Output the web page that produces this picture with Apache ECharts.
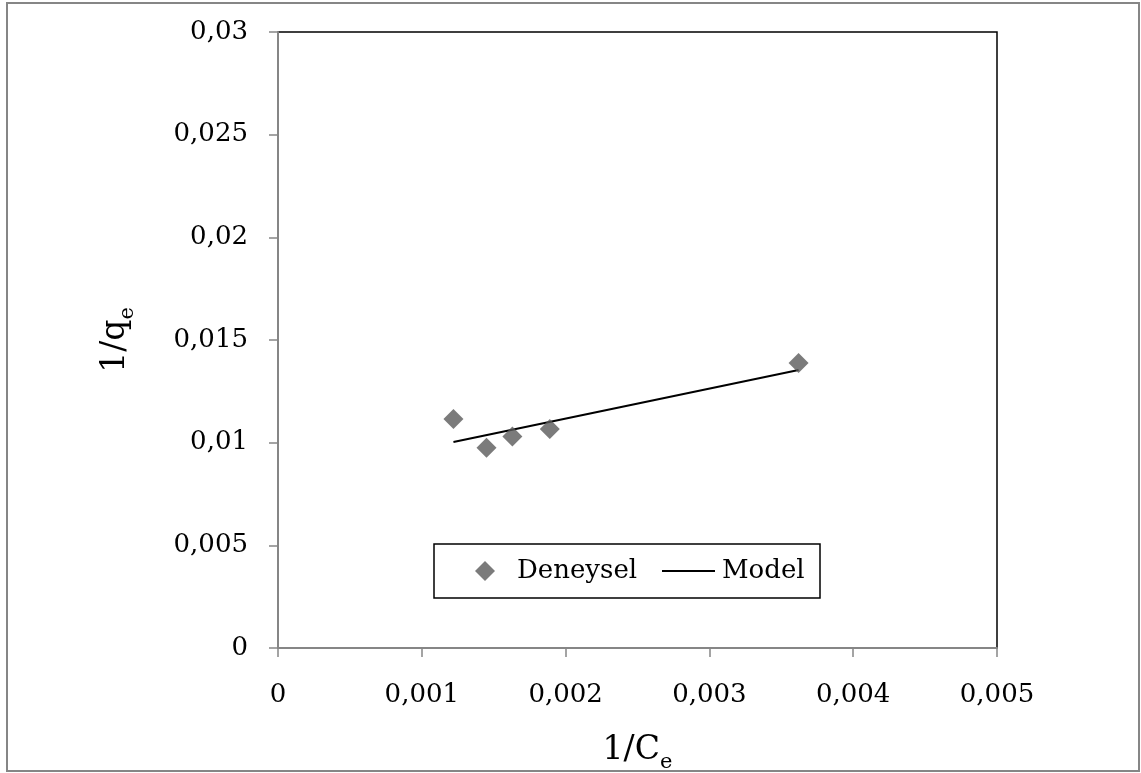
<!DOCTYPE html>
<html>
<head>
<meta charset="utf-8">
<script src="https://cdn.jsdelivr.net/npm/echarts@6/dist/echarts.min.js"></script>
<style>
html, body { margin: 0; padding: 0; background: #fff; }
#chart { width: 1141px; height: 773px; }
</style>
</head>
<body>
<div id="chart"></div>
<script>
// measured points (1/Ce, 1/qe)
var xDeneysel = [0.00122, 0.00145, 0.00163, 0.00189, 0.00362];
var yDeneysel = [0.01115, 0.00975, 0.0103, 0.01067, 0.01388];
// fitted line
var xModel = [0.00122, 0.00362];
var yModel = [0.01003, 0.01354];
var xTickLabels = ['0', '0,001', '0,002', '0,003', '0,004', '0,005'];
var yTickLabels = ['0', '0,005', '0,01', '0,015', '0,02', '0,025', '0,03'];

var fontFam = 'DejaVu Serif';
var chart = echarts.init(document.getElementById('chart'));

function pairs(xs, ys) {
    var out = [];
    for (var i = 0; i < xs.length; i++) out.push([xs[i], ys[i]]);
    return out;
}

var titleRich = {
    b: { fontFamily: fontFam, fontSize: 33, color: '#000', lineHeight: 34, verticalAlign: 'bottom' },
    s: { fontFamily: fontFam, fontSize: 21, color: '#000', lineHeight: 20, verticalAlign: 'bottom', padding: [0, 0, -6, 0] }
};

var option = {
    backgroundColor: '#fff',
    animation: false,
    textStyle: { fontFamily: fontFam, color: '#000' },
    grid: {
        left: 278, right: 144, top: 32, bottom: 125,
        outerBoundsMode: 'none', containLabel: false,
        show: true, borderColor: '#000', borderWidth: 1.5, backgroundColor: 'transparent'
    },
    graphic: [
        { type: 'rect', shape: { x: 7, y: 3, width: 1132, height: 768 },
          style: { fill: 'none', stroke: '#868686', lineWidth: 2 }, z: -1 },
        { type: 'rect', shape: { x: 434, y: 544, width: 386, height: 54 },
          style: { fill: '#fff', stroke: '#000', lineWidth: 1.5 }, z: 5 }
    ],
    legend: [
        {
            data: [{ name: 'Deneysel', icon: 'diamond' }],
            left: 475, top: 558, padding: 0,
            itemWidth: 20, itemHeight: 20,
            textStyle: { fontFamily: fontFam, fontSize: 26, color: '#000', padding: [0, 0, 0, 17] },
            z: 10
        },
        {
            data: [{ name: 'Model', icon: 'rect' }],
            left: 662, top: 558, padding: 0,
            itemWidth: 53, itemHeight: 2,
            textStyle: { fontFamily: fontFam, fontSize: 26, color: '#000', padding: [0, 0, 0, 2] },
            z: 10
        }
    ],
    xAxis: {
        type: 'value', min: 0, max: 0.005, interval: 0.001,
        name: '{b|1/C}{s|e}', nameLocation: 'middle', nameGap: 85,
        nameTextStyle: { rich: titleRich },
        axisLine: { show: true, lineStyle: { color: '#868686', width: 2 } },
        axisTick: { show: true, length: 9, lineStyle: { color: '#868686', width: 1.5 } },
        axisLabel: {
            margin: 34, fontSize: 26, fontFamily: fontFam, color: '#000',
            formatter: function (v, i) { return xTickLabels[Math.round(v / 0.001)]; }
        },
        splitLine: { show: false }
    },
    yAxis: {
        type: 'value', min: 0, max: 0.03, interval: 0.005,
        name: '{b|1/q}{s|e}', nameLocation: 'middle', nameGap: 146,
        nameTextStyle: { rich: titleRich },
        axisLine: { show: true, lineStyle: { color: '#868686', width: 2 } },
        axisTick: { show: true, length: 9, lineStyle: { color: '#868686', width: 1.5 } },
        axisLabel: {
            margin: 30, fontSize: 26, fontFamily: fontFam, color: '#000',
            formatter: function (v, i) { return yTickLabels[Math.round(v / 0.005)]; }
        },
        splitLine: { show: false }
    },
    series: [
        {
            name: 'Deneysel', type: 'scatter',
            symbol: 'diamond', symbolSize: 20,
            itemStyle: { color: '#5a5a5a' },
            data: pairs(xDeneysel, yDeneysel),
            z: 3
        },
        {
            name: 'Model', type: 'line',
            showSymbol: false, symbol: 'none',
            lineStyle: { color: '#000', width: 2 },
            itemStyle: { color: '#000' },
            data: pairs(xModel, yModel),
            z: 2
        }
    ]
};
chart.setOption(option);
</script>
</body>
</html>
